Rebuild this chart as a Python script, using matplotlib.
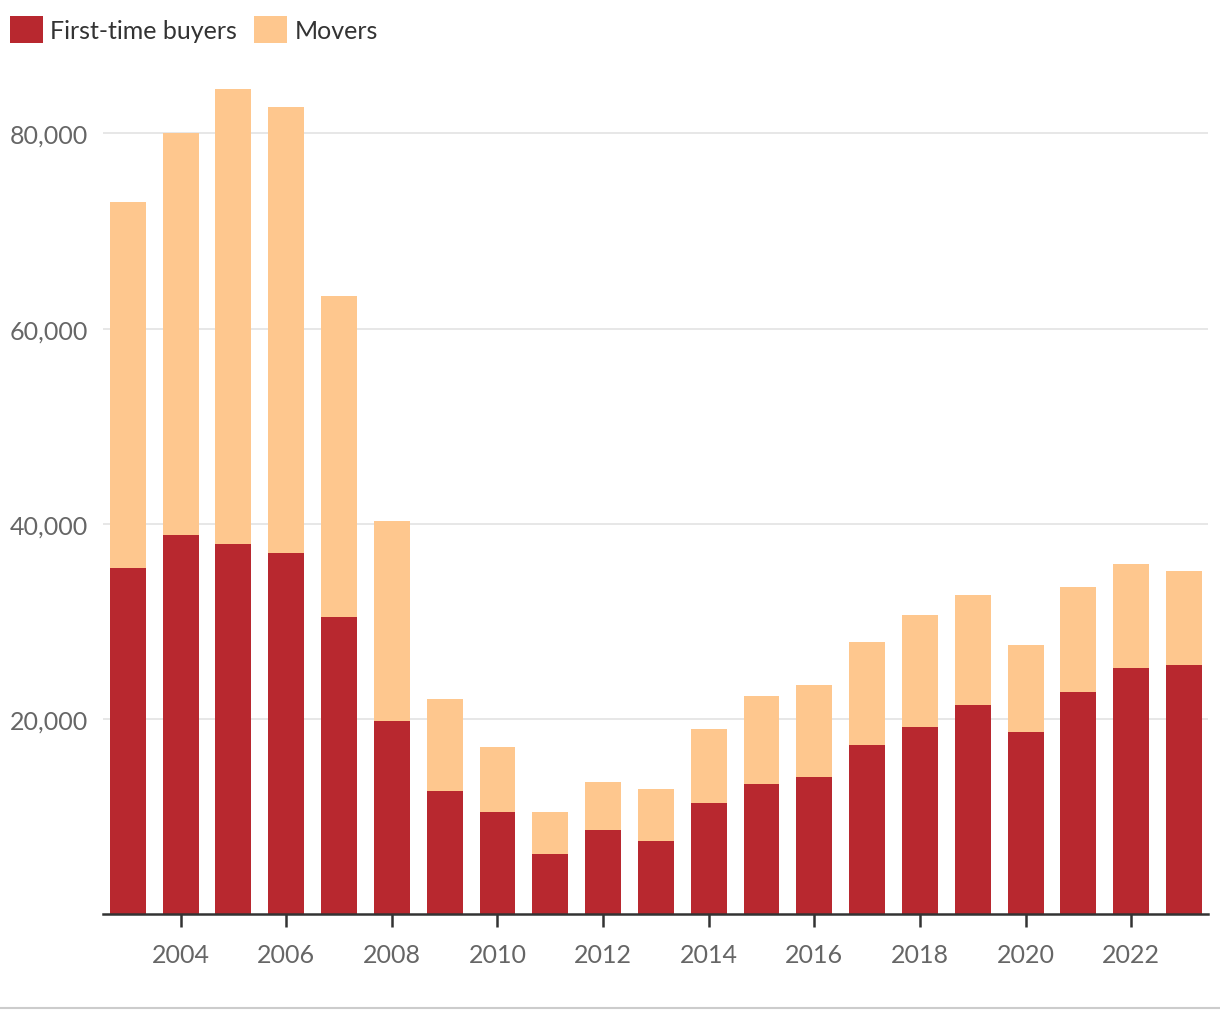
import numpy as np
import matplotlib.pyplot as plt
from matplotlib.lines import Line2D

plt.rcParams['font.family'] = ['Lato', 'DejaVu Sans']

# data
years = np.arange(2003, 2024)
first_time = [35500, 38800, 37900, 37000, 30400, 19800, 12600, 10500, 6200, 8600, 7500,
              11400, 13300, 14000, 17300, 19200, 21400, 18700, 22800, 25200, 25500]
total = [73000, 80000, 84600, 82700, 63300, 40300, 22000, 17100, 10500, 13500, 12800,
         19000, 22300, 23500, 27900, 30600, 32700, 27600, 33500, 35900, 35200]
movers = [t - f for t, f in zip(total, first_time)]

red = '#b8282f'
peach = '#fec78e'

fig = plt.figure(figsize=(12.2, 10.2), dpi=100)
ax = fig.add_axes([0.0844, 0.1029, 0.9056, 0.8246])

ax.bar(years, first_time, width=0.68, color=red, zorder=3, label='First-time buyers')
ax.bar(years, movers, width=0.68, bottom=first_time, color=peach, zorder=3, label='Movers')

ax.set_xlim(2002.53, 2023.45)
ax.set_ylim(0, 86200)
ax.set_yticks([20000, 40000, 60000, 80000])
ax.set_yticklabels(['20,000', '40,000', '60,000', '80,000'])
ax.set_xticks(np.arange(2004, 2023, 2))
ax.tick_params(axis='y', length=0, pad=11, labelsize=18, labelcolor='#666666')
ax.tick_params(axis='x', length=9, width=1.8, color='#333333', pad=12,
               labelsize=18, labelcolor='#666666')
ax.grid(axis='y', color='#e5e5e5', linewidth=1.3, zorder=0)

for s in ['top', 'right', 'left']:
    ax.spines[s].set_visible(False)
ax.spines['bottom'].set_color('#333333')
ax.spines['bottom'].set_linewidth(1.8)
ax.spines['bottom'].set_zorder(4)

ax.legend(loc='upper left', bbox_to_anchor=(0.0, 0.993), bbox_transform=fig.transFigure,
          ncol=2, frameon=False, fontsize=18, handlelength=1.3, handleheight=1.3,
          handletextpad=0.3, columnspacing=0.7, borderpad=0, borderaxespad=0.4,
          labelcolor='#333333')

fig.add_artist(Line2D([0, 1], [0.011, 0.011], transform=fig.transFigure,
                      color='#cccccc', linewidth=1.5))

fig.savefig('out.png', dpi=100)
